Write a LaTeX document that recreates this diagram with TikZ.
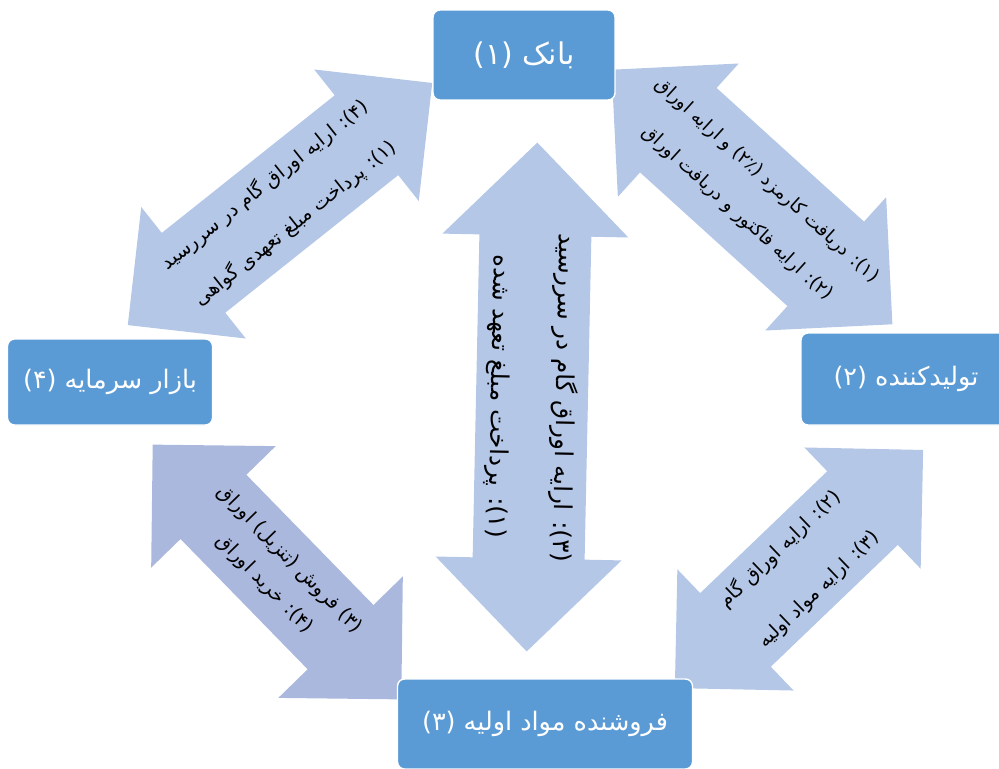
\documentclass[tikz,border=0pt]{standalone}
\usepackage{fontspec}
\newfontfamily\farsi[Script=Arabic]{DejaVu Sans}
\TeXXeTstate=1
\usepackage{tikz}

\definecolor{boxblue}{HTML}{5B9BD5}
\definecolor{arrowblue}{HTML}{B4C7E7}
\definecolor{arrowlilac}{HTML}{ABB8DD}

\tikzset{
  party/.style={rectangle, rounded corners=4pt, fill=boxblue, draw=white, line width=0.8pt,
    text=white, inner sep=0pt, font=\farsi\fontsize{14.5}{18}\selectfont},
  flowtext/.style={align=center, inner sep=0pt, text=black}
}

\newcommand{\flowarrow}[9][]{%
  \begin{scope}[shift={#3}, rotate=#4]
    \fill[#8] ({-#5/2},0) -- ({-#5/2+#7},#7) -- ({-#5/2+#7},#6) -- ({#5/2-#7},#6)
      -- ({#5/2-#7},#7) -- ({#5/2},0) -- ({#5/2-#7},-#7) -- ({#5/2-#7},-#6)
      -- ({-#5/2+#7},-#6) -- ({-#5/2+#7},-#7) -- cycle;
  \end{scope}
  \node[flowtext, rotate=#4, #1] (#2) at #3 {#9};
}

\begin{document}
\begin{tikzpicture}[x=0.02cm, y=-0.02cm]
\useasboundingbox (0,0) rectangle (999,768);

\flowarrow[font=\farsi\fontsize{10.5}{25}\selectfont]{bankprod}{(752,197)}{-42.2}{379}{57}{90}{arrowblue}
  {\beginR (۱): دریافت کارمزد (۲٪) و ارایه اوراق\endR\\\beginR (۲): ارایه فاکتور و دریافت اوراق\endR}
\flowarrow[font=\farsi\fontsize{11}{28}\selectfont]{bankmarket}{(280,204)}{38.5}{389}{51}{84}{arrowblue}
  {\beginR (۴): ارایه اوراق گام در سررسید\endR\\\beginR (۱): پرداخت مبلغ تعهدی گواهی\endR}
\flowarrow[font=\farsi\fontsize{14}{37}\selectfont]{bankseller}{(532,397)}{-91.2}{509}{56}{93}{arrowblue}
  {\beginR (۳): ارایه اوراق گام در سررسید\endR\\\beginR (۱): پرداخت مبلغ تعهد شده\endR}
\flowarrow[font=\farsi\fontsize{11}{20}\selectfont]{marketseller}{(277,572)}{-45.7}{356}{46}{87}{arrowlilac}
  {\beginR (۳) فروش (تنزیل) اوراق\endR\\\beginR (۴): خرید اوراق\endR}
\flowarrow[font=\farsi\fontsize{11}{32}\selectfont]{prodseller}{(799,569)}{43.8}{344}{51}{84}{arrowblue}
  {\beginR (۲): ارایه اوراق گام\endR\\\beginR (۳): ارایه مواد اولیه\endR}

\node[party, minimum width=3.64cm, minimum height=1.8cm, font=\farsi\fontsize{17}{20}\selectfont] (bank) at (524,55) {\beginR بانک (۱)\endR};
\node[party, minimum width=4.2cm, minimum height=1.84cm] (prod) at (906,379) {\beginR تولیدکننده (۲)\endR};
\node[party, minimum width=4.1cm, minimum height=1.72cm] (market) at (110,382) {\beginR بازار سرمایه (۴)\endR};
\node[party, minimum width=5.9cm, minimum height=1.8cm] (seller) at (545,724) {\beginR فروشنده مواد اولیه (۳)\endR};
\end{tikzpicture}
\end{document}
